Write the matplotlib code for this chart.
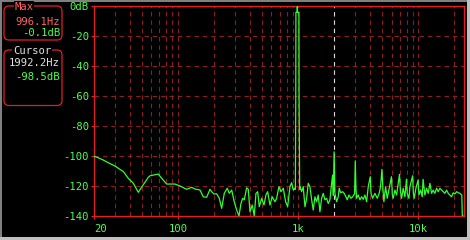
import matplotlib
matplotlib.use("Agg")
import matplotlib.pyplot as plt
from matplotlib.patches import FancyBboxPatch, Rectangle
from matplotlib.ticker import FixedLocator, NullLocator

# spectrum (Hz, dB)
freq_hz = [
    20, 21.7, 23.9, 26.3, 29.9, 31.9, 35.1, 38.6, 42.5, 46.7, 51.4, 56.6, 58.5,
    68.5, 73.2, 80.5, 94.4, 103.9, 118.1, 130.0, 138.4, 152.4,
    162.3, 173.2, 184.6, 190.7, 199.2, 209.8, 220.6, 231.0, 242.8, 257.1, 267.1,
    279.7, 294.0, 307.8, 321.7, 334.2, 345.3, 356.1, 372.9, 384.5, 397.2, 415.1,
    431.3, 445.6, 460.4, 474.7, 496.9, 519.3, 539.5, 557.4, 582.4, 608.7, 640.9,
    662.2, 692.0, 719.0, 751.5, 786.8, 817.5, 854.3, 882.7, 910.2, 940.3,
    948, 955, 958, 980, 984, 988, 1015, 1018, 1030,
    1035, 1069, 1102, 1139, 1177, 1213, 1253, 1295, 1335, 1379, 1425, 1469,
    1518, 1568, 1617, 1670, 1726, 1780, 1839, 1899, 1936, 1962, 1992, 2023,
    2090, 2155, 2197, 2255, 2344, 2417, 2497, 2560, 2645, 2748, 2839, 2950,
    2988, 3030, 3066, 3161, 3267, 3375, 3480, 3595, 3714, 3829, 3984, 4040,
    4165, 4354, 4550, 4727, 4850, 4980, 5080, 5170, 5342, 5508, 5691, 5977,
    6080, 6181, 6386, 6597, 6973, 7100, 7260, 7486, 7735, 7969, 8085, 8351,
    8513, 8965, 9100, 9242, 9548, 9961, 10110, 10450, 10770, 10957, 11340,
    11720, 12090, 12490, 12900, 13290, 13730, 14190, 14630, 15120, 15610,
    16110, 16640, 17190, 17730, 18310, 18920, 19510, 20150, 20820, 21480,
    22180, 23000, 23250, 24000,
]
level_db = [
    -100, -101, -102.5, -104.3, -106.5, -108, -110.2, -114.7, -118, -124, -119, -114, -113,
    -111.8, -114.7, -118.5, -118.5, -119.8, -122, -120.7, -121.8, -122.5,
    -127, -127.3, -122, -123.6, -125.1, -125, -128, -134.7, -124.7, -121.3, -124.7,
    -122.5, -130.3, -135.8, -139.8, -131.5, -128, -129, -121, -122, -137, -132.5,
    -139.8, -124.7, -123.6, -133.6, -128, -132.5, -125.8, -123.6, -132.5, -127, -130.3,
    -128, -120.3, -123.6, -121.3, -130.3, -133.6, -120.3, -117.6, -122.5, -121.3,
    -122, -63, -4, -4, -0.1, -4, -4, -63, -122,
    -120.3, -123.6, -120.3, -133.6, -128, -118, -120.3, -129, -135.8, -127, -130.3, -125.8,
    -137, -128, -124.7, -129, -128, -131.5, -129, -118, -112.5, -126, -97, -124.7,
    -130.3, -127, -121.3, -124.3, -123.6, -124.7, -127, -129, -125.8, -128, -127, -125,
    -103, -122.5, -128, -125.8, -129, -127, -128.7, -125.8, -130.3, -120.3, -113.6, -124.7,
    -128, -124.7, -128, -124.7, -120.3, -108.7, -122.5, -130.3, -120.3, -128, -122.5, -113.6,
    -125.8, -128, -122.5, -125.8, -112, -123.6, -128, -121.3, -127, -115.3, -124.7, -128,
    -120.3, -113, -124.7, -128, -121.3, -115.8, -125.8, -122.5, -127, -115.3, -125.8,
    -121.3, -124.7, -118, -124.7, -122.5, -124.7, -121.3, -123.6, -121.3, -122.5,
    -123.6, -124.7, -122.5, -124.7, -125.8, -127, -124.3, -125.1, -123.6, -124.3,
    -124.7, -125.8, -140, -140,
]

x_ticks = [20, 100, 1000, 10000]
x_tick_labels = ["20", "100", "1k", "10k"]
y_ticks = [0, -20, -40, -60, -80, -100, -120, -140]
y_tick_labels = ["0dB", "-20", "-40", "-60", "-80", "-100", "-120", "-140"]
grid_freqs = [30, 40, 50, 60, 70, 80, 90, 100, 200, 300, 400, 500, 600, 700,
              800, 900, 1000, 2000, 3000, 4000, 5000, 6000, 7000, 8000, 9000,
              10000, 20000]

max_freq = "996.1Hz"
max_level = "-0.1dB"
cursor_freq_hz = 1992.2
cursor_freq = "1992.2Hz"
cursor_level = "-98.5dB"

GREEN = "#30ff30"
TEXT_GREEN = "#50ff50"
RED = "#e02020"
GRID = "#8c1e1e"
SALMON = "#ff6464"
LIGHT = "#e0e0e0"
FONT = "DejaVu Sans Mono"
FS = 7.6

W, H = 470, 240
fig = plt.figure(figsize=(W / 100, H / 100), dpi=100, facecolor="black")


def fx(x):
    return x / W


def fy(y):
    return 1 - y / H


ax = fig.add_axes([fx(94), fy(216.3), (464 - 94) / W, (216.3 - 6.3) / H])
ax.set_facecolor("black")
ax.set_xscale("log")
ax.set_xlim(20, 24000)
ax.set_ylim(-140, 0)

for f in grid_freqs:
    ax.axvline(f, color=GRID, lw=0.8, dashes=(4, 3.5), zorder=1)
for y in y_ticks[1:-1]:
    ax.axhline(y, color=GRID, lw=0.8, dashes=(4, 3.5), zorder=1)
ax.axvline(cursor_freq_hz, color="#d8d8d8", lw=0.8, dashes=(4, 3.5), zorder=2)

ax.plot(freq_hz, level_db, color=GREEN, lw=0.9, zorder=3)

for s in ax.spines.values():
    s.set_color(RED)
    s.set_linewidth(1.0)

ax.xaxis.set_major_locator(FixedLocator(x_ticks))
ax.xaxis.set_minor_locator(NullLocator())
ax.set_xticklabels(x_tick_labels)
ax.set_yticks(y_ticks)
ax.set_yticklabels(y_tick_labels)
ax.tick_params(colors=RED, length=2.2, width=0.8, pad=1.5)
ax.tick_params(axis="x", pad=3.5)
for lab in ax.get_xticklabels() + ax.get_yticklabels():
    lab.set_color(TEXT_GREEN)
    lab.set_fontfamily(FONT)
    lab.set_fontsize(FS)
ax.get_xticklabels()[0].set_horizontalalignment("left")

# readout boxes on the left
T = fig.dpi_scale_trans


def panel(top, bottom):
    fig.patches.append(FancyBboxPatch(
        (4 / 100, (H - bottom) / 100), 58 / 100, (bottom - top) / 100,
        boxstyle="round,pad=0,rounding_size=0.05", transform=T,
        facecolor="black", edgecolor=RED, lw=0.9))


panel(6, 40)
panel(50, 105.5)

fig.text(fx(24), fy(7), "Max", color=SALMON, ha="center", va="center",
         family=FONT, fontsize=FS,
         bbox=dict(facecolor="black", edgecolor="none", pad=0.6))
fig.text(fx(60), fy(22), max_freq, color=SALMON, ha="right", va="center",
         family=FONT, fontsize=FS)
fig.text(fx(60), fy(33), max_level, color=TEXT_GREEN, ha="right", va="center",
         family=FONT, fontsize=FS)
fig.text(fx(32), fy(50.5), "Cursor", color=LIGHT, ha="center", va="center",
         family=FONT, fontsize=FS,
         bbox=dict(facecolor="black", edgecolor="none", pad=0.6))
fig.text(fx(60), fy(63), cursor_freq, color=LIGHT, ha="right", va="center",
         family=FONT, fontsize=FS)
fig.text(fx(60), fy(77), cursor_level, color=TEXT_GREEN, ha="right", va="center",
         family=FONT, fontsize=FS)

# window border
fig.patches.append(Rectangle((0, 0), 2 / W, 1, transform=fig.transFigure,
                             facecolor="#808080", edgecolor="none"))
fig.patches.append(Rectangle((0, 1 - 2 / H), 1, 2 / H, transform=fig.transFigure,
                             facecolor="#808080", edgecolor="none"))
fig.patches.append(Rectangle((1 - 3 / W, 0), 3 / W, 1, transform=fig.transFigure,
                             facecolor="#c0c0c0", edgecolor="none"))
fig.patches.append(Rectangle((0, 0), 1, 3 / H, transform=fig.transFigure,
                             facecolor="#c0c0c0", edgecolor="none"))

fig.savefig("out.png", dpi=100, facecolor="black")
